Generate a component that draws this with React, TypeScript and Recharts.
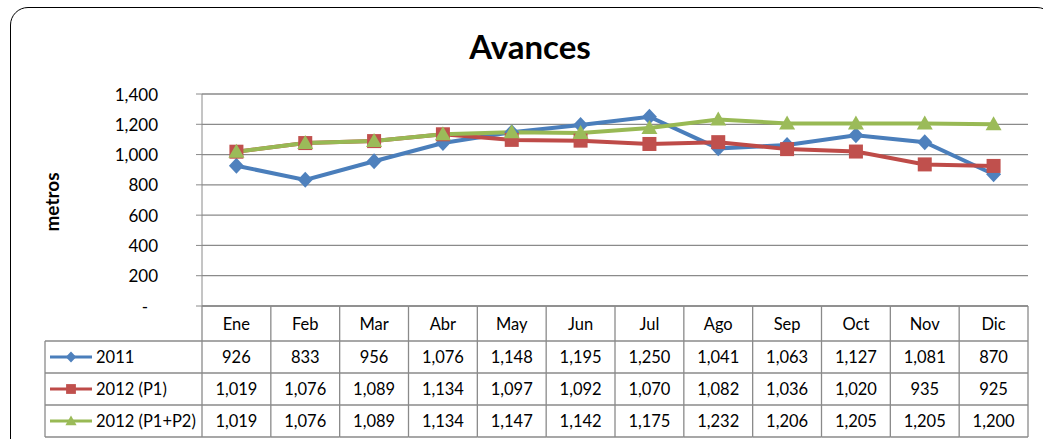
import { CartesianGrid, Line, LineChart, XAxis, YAxis } from 'recharts';

const months = ['Ene', 'Feb', 'Mar', 'Abr', 'May', 'Jun', 'Jul', 'Ago', 'Sep', 'Oct', 'Nov', 'Dic'];
const serie2011 = [926, 833, 956, 1076, 1148, 1195, 1250, 1041, 1063, 1127, 1081, 870];
const serieP1 = [1019, 1076, 1089, 1134, 1097, 1092, 1070, 1082, 1036, 1020, 935, 925];
const serieP1P2 = [1019, 1076, 1089, 1134, 1147, 1142, 1175, 1232, 1206, 1205, 1205, 1200];
const yTicks = [0, 200, 400, 600, 800, 1000, 1200, 1400];

type Shape = 'diamond' | 'square' | 'triangle';

const series: { key: string; name: string; values: number[]; line: string; fill: string; shape: Shape }[] = [
  { key: 's2011', name: '2011', values: serie2011, line: '#4A7EBB', fill: '#4F81BD', shape: 'diamond' },
  { key: 'sP1', name: '2012 (P1)', values: serieP1, line: '#BE4B48', fill: '#C0504D', shape: 'square' },
  { key: 'sP1P2', name: '2012 (P1+P2)', values: serieP1P2, line: '#98B954', fill: '#9BBB59', shape: 'triangle' }
];

const data = months.map((m, i) => {
  const row: Record<string, string | number> = { m };
  series.forEach((s) => (row[s.key] = s.values[i]));
  return row;
});

const W = 1043;
const H = 439;
const PLOT_LEFT = 202;
const PLOT_RIGHT = 1028;
const PLOT_TOP = 94;
const PLOT_BOTTOM = 306;
const COL_W = (PLOT_RIGHT - PLOT_LEFT) / months.length;
const HEADER_H = 35;
const ROW_H = 32;
const LEGEND_LEFT = 45;
const FONT = 'Lato, "Open Sans", sans-serif';
const GRID = '#8a8a8a';

const fmt = (v: number) => v.toLocaleString('en-US');

function Marker({ cx, cy, shape, fill, s = 1 }: { cx: number; cy: number; shape: Shape; fill: string; s?: number }) {
  if (shape === 'diamond')
    return <polygon points={`${cx},${cy - 8 * s} ${cx + 7.5 * s},${cy} ${cx},${cy + 8 * s} ${cx - 7.5 * s},${cy}`} fill={fill} />;
  if (shape === 'square') return <rect x={cx - 7 * s} y={cy - 7 * s} width={14 * s} height={14 * s} fill={fill} />;
  return <polygon points={`${cx},${cy - 8 * s} ${cx + 8 * s},${cy + 6 * s} ${cx - 8 * s},${cy + 6 * s}`} fill={fill} />;
}

function YTick({ x, y, payload }: any) {
  const zero = payload.value === 0;
  return (
    <text x={zero ? x - 10 : x} y={y} textAnchor="end" dominantBaseline="central" fontFamily={FONT} fontSize={17} fill="#000">
      {zero ? '-' : fmt(payload.value)}
    </text>
  );
}

// each x tick draws its own column of the data table under the plot
function TableTick({ x, y, payload, index }: any) {
  const left = x - COL_W / 2;
  const right = x + COL_W / 2;
  const top = y;
  const bodyTop = top + HEADER_H;
  const bottom = bodyTop + ROW_H * series.length;
  const txt = { fontFamily: FONT, fontSize: 16.5, fill: '#000', dominantBaseline: 'central' as const };
  return (
    <g>
      <line x1={left} x2={left} y1={top} y2={bottom} stroke={GRID} strokeWidth={1.3} />
      {index === months.length - 1 && <line x1={right} x2={right} y1={top} y2={bottom} stroke={GRID} strokeWidth={1.3} />}
      <line x1={left} x2={right} y1={top} y2={top} stroke={GRID} strokeWidth={1.3} />
      <text x={x} y={top + HEADER_H / 2} textAnchor="middle" {...txt}>
        {payload.value}
      </text>
      {series.map((s, i) => (
        <g key={s.key}>
          <line x1={left} x2={right} y1={bodyTop + i * ROW_H} y2={bodyTop + i * ROW_H} stroke={GRID} strokeWidth={1.3} />
          <text x={x} y={bodyTop + i * ROW_H + ROW_H / 2} textAnchor="middle" {...txt}>
            {fmt(s.values[index])}
          </text>
        </g>
      ))}
      <line x1={left} x2={right} y1={bottom} y2={bottom} stroke={GRID} strokeWidth={1.3} />
      {index === 0 && (
        <g>
          <line x1={LEGEND_LEFT} x2={LEGEND_LEFT} y1={bodyTop} y2={bottom} stroke={GRID} strokeWidth={1.3} />
          {series.map((s, i) => {
            const cy = bodyTop + i * ROW_H + ROW_H / 2;
            return (
              <g key={s.key}>
                <line x1={LEGEND_LEFT} x2={left} y1={bodyTop + i * ROW_H} y2={bodyTop + i * ROW_H} stroke={GRID} strokeWidth={1.3} />
                <line x1={LEGEND_LEFT + 5} x2={LEGEND_LEFT + 47} y1={cy} y2={cy} stroke={s.line} strokeWidth={3} />
                <Marker cx={LEGEND_LEFT + 26} cy={cy} shape={s.shape} fill={s.fill} s={0.7} />
                <text x={LEGEND_LEFT + 51} y={cy} textAnchor="start" {...txt}>
                  {s.name}
                </text>
              </g>
            );
          })}
          <line x1={LEGEND_LEFT} x2={left} y1={bottom} y2={bottom} stroke={GRID} strokeWidth={1.3} />
        </g>
      )}
    </g>
  );
}

export default function App() {
  return (
    <div style={{ position: 'absolute', left: 0, top: 0, width: W, height: H, overflow: 'hidden', background: '#fff' }}>
      <div
        style={{
          position: 'absolute',
          left: 10,
          top: 7,
          width: 1045,
          height: 450,
          border: '1.5px solid #000',
          borderRadius: 18,
          boxSizing: 'border-box'
        }}
      />
      <div
        style={{
          position: 'absolute',
          left: 430,
          top: 25,
          width: 200,
          textAlign: 'center',
          fontFamily: FONT,
          fontWeight: 700,
          fontSize: 33,
          lineHeight: '42px'
        }}
      >
        Avances
      </div>
      <div
        style={{
          position: 'absolute',
          left: 51,
          top: 202,
          transform: 'translate(-50%, -50%) rotate(-90deg)',
          fontFamily: FONT,
          fontWeight: 700,
          fontSize: 19
        }}
      >
        metros
      </div>
      <div style={{ position: 'absolute', left: 0, top: 0 }}>
        <LineChart
          width={W}
          height={H}
          data={data}
          margin={{ top: PLOT_TOP, right: W - PLOT_RIGHT, bottom: 0, left: PLOT_LEFT - 60 }}
        >
          <CartesianGrid vertical={false} stroke={GRID} strokeWidth={1.3} />
          <XAxis
            dataKey="m"
            height={H - PLOT_BOTTOM}
            padding={{ left: COL_W / 2, right: COL_W / 2 }}
            axisLine={false}
            tickLine={false}
            tickSize={0}
            tickMargin={0}
            interval={0}
            tick={<TableTick />}
          />
          <YAxis
            width={60}
            domain={[0, 1400]}
            ticks={yTicks}
            interval={0}
            stroke={GRID}
            tickSize={6}
            tickMargin={38}
            tick={<YTick />}
          />
          {series.map((s) => (
            <Line
              key={s.key}
              dataKey={s.key}
              name={s.name}
              type="linear"
              stroke={s.line}
              strokeWidth={4}
              isAnimationActive={false}
              dot={(p: any) => <Marker key={`${s.key}-${p.index}`} cx={p.cx} cy={p.cy} shape={s.shape} fill={s.fill} />}
              activeDot={false}
            />
          ))}
        </LineChart>
      </div>
    </div>
  );
}
